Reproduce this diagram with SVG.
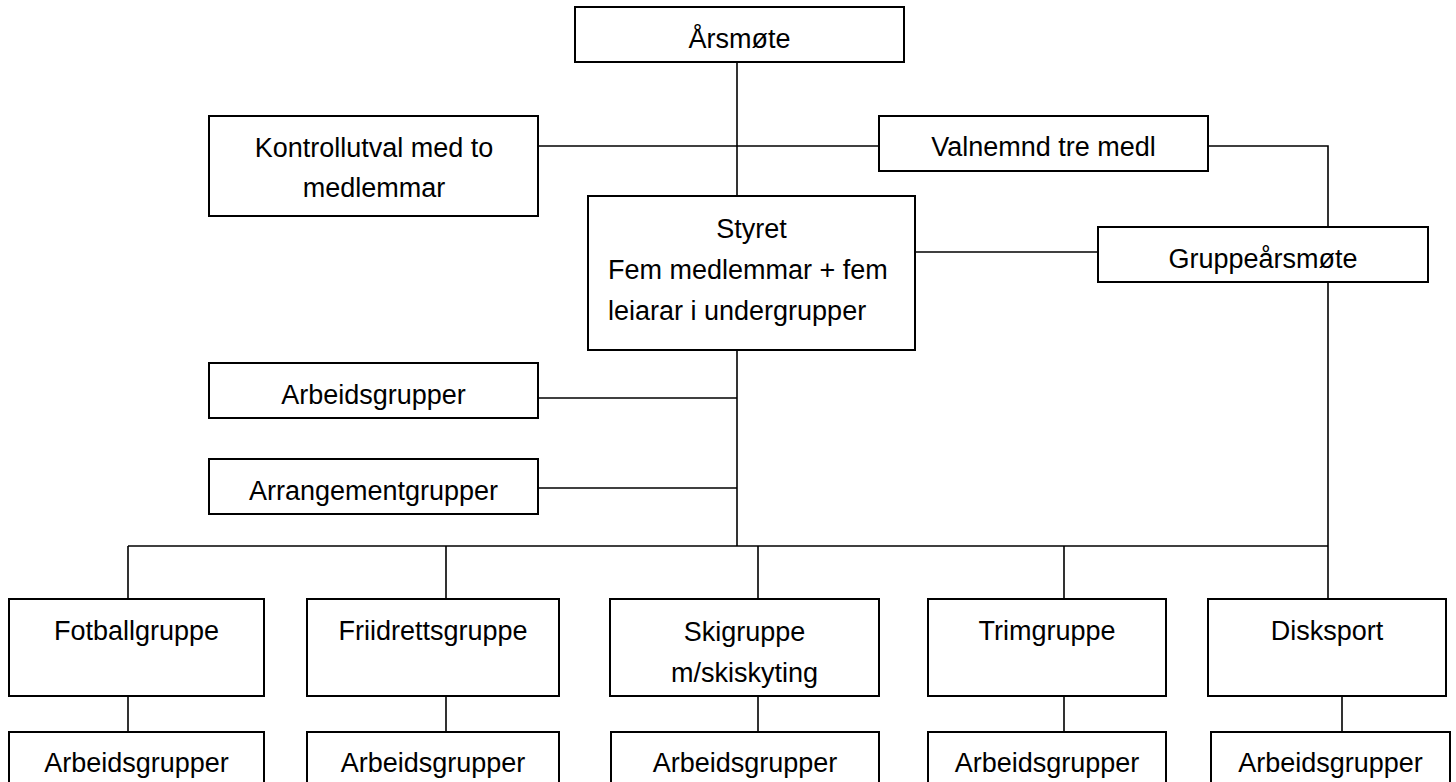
<svg xmlns="http://www.w3.org/2000/svg" width="1456" height="782" viewBox="0 0 1456 782">
<style>
.box{fill:#fff;stroke:#000;stroke-width:2}
.t{font-family:"Liberation Sans",Arial,sans-serif;font-size:27px;fill:#000;text-anchor:middle}
.l{font-family:"Liberation Sans",Arial,sans-serif;font-size:27px;fill:#000;text-anchor:start}
.c{fill:none;stroke:#000;stroke-width:1.6}
</style>
<rect width="1456" height="782" fill="#fff"/>
<g id="connectors">
<path class="c" d="M737 62V196"/>
<path class="c" d="M538 146H879"/>
<path class="c" d="M1208 146H1328V227"/>
<path class="c" d="M915 252H1098"/>
<path class="c" d="M1328 282V599"/>
<path class="c" d="M737 350V546"/>
<path class="c" d="M538 398H737"/>
<path class="c" d="M538 488H737"/>
<path class="c" d="M128 546H1328"/>
<path class="c" d="M128 546V599M446 546V599M758 546V599M1064 546V599"/>
<path class="c" d="M128 696V732M446 696V732M758 696V732M1064 696V732M1342 696V732"/>
</g>
<g id="arsmote"><rect class="box" x="575" y="7" width="329" height="55"/><text class="t" x="739.5" y="48">Årsmøte</text></g>
<g id="kontrollutval"><rect class="box" x="209" y="116" width="329" height="100"/><text class="t" x="374" y="157">Kontrollutval med to</text><text class="t" x="374" y="197">medlemmar</text></g>
<g id="valnemnd"><rect class="box" x="879" y="116" width="329" height="55"/><text class="t" x="1043.5" y="156">Valnemnd tre medl</text></g>
<g id="styret"><rect class="box" x="588" y="196" width="327" height="154"/><text class="t" x="751.5" y="238">Styret</text><text class="l" x="608" y="279">Fem medlemmar + fem</text><text class="l" x="608" y="320">leiarar i undergrupper</text></g>
<g id="gruppearsmote"><rect class="box" x="1098" y="227" width="330" height="55"/><text class="t" x="1263" y="268">Gruppeårsmøte</text></g>
<g id="arbeidsgrupper"><rect class="box" x="209" y="363" width="329" height="55"/><text class="t" x="373.5" y="404">Arbeidsgrupper</text></g>
<g id="arrangementgrupper"><rect class="box" x="209" y="459" width="329" height="55"/><text class="t" x="373.5" y="500">Arrangementgrupper</text></g>
<g id="fotballgruppe"><rect class="box" x="9" y="599" width="255" height="97"/><text class="t" x="136.5" y="640">Fotballgruppe</text></g>
<g id="friidrettsgruppe"><rect class="box" x="307" y="599" width="252" height="97"/><text class="t" x="433" y="640">Friidrettsgruppe</text></g>
<g id="skigruppe"><rect class="box" x="610" y="599" width="269" height="97"/><text class="t" x="744.5" y="641">Skigruppe</text><text class="t" x="744.5" y="682">m/skiskyting</text></g>
<g id="trimgruppe"><rect class="box" x="928" y="599" width="238" height="97"/><text class="t" x="1047" y="640">Trimgruppe</text></g>
<g id="disksport"><rect class="box" x="1208" y="599" width="238" height="97"/><text class="t" x="1327" y="640">Disksport</text></g>
<g id="arb-fotball"><rect class="box" x="9" y="732" width="255" height="60"/><text class="t" x="136.5" y="772">Arbeidsgrupper</text></g>
<g id="arb-friidrett"><rect class="box" x="307" y="732" width="252" height="60"/><text class="t" x="433" y="772">Arbeidsgrupper</text></g>
<g id="arb-ski"><rect class="box" x="611" y="732" width="268" height="60"/><text class="t" x="745" y="772">Arbeidsgrupper</text></g>
<g id="arb-trim"><rect class="box" x="928" y="732" width="238" height="60"/><text class="t" x="1047" y="772">Arbeidsgrupper</text></g>
<g id="arb-disk"><rect class="box" x="1211" y="732" width="239" height="60"/><text class="t" x="1330.5" y="772">Arbeidsgrupper</text></g>
</svg>
